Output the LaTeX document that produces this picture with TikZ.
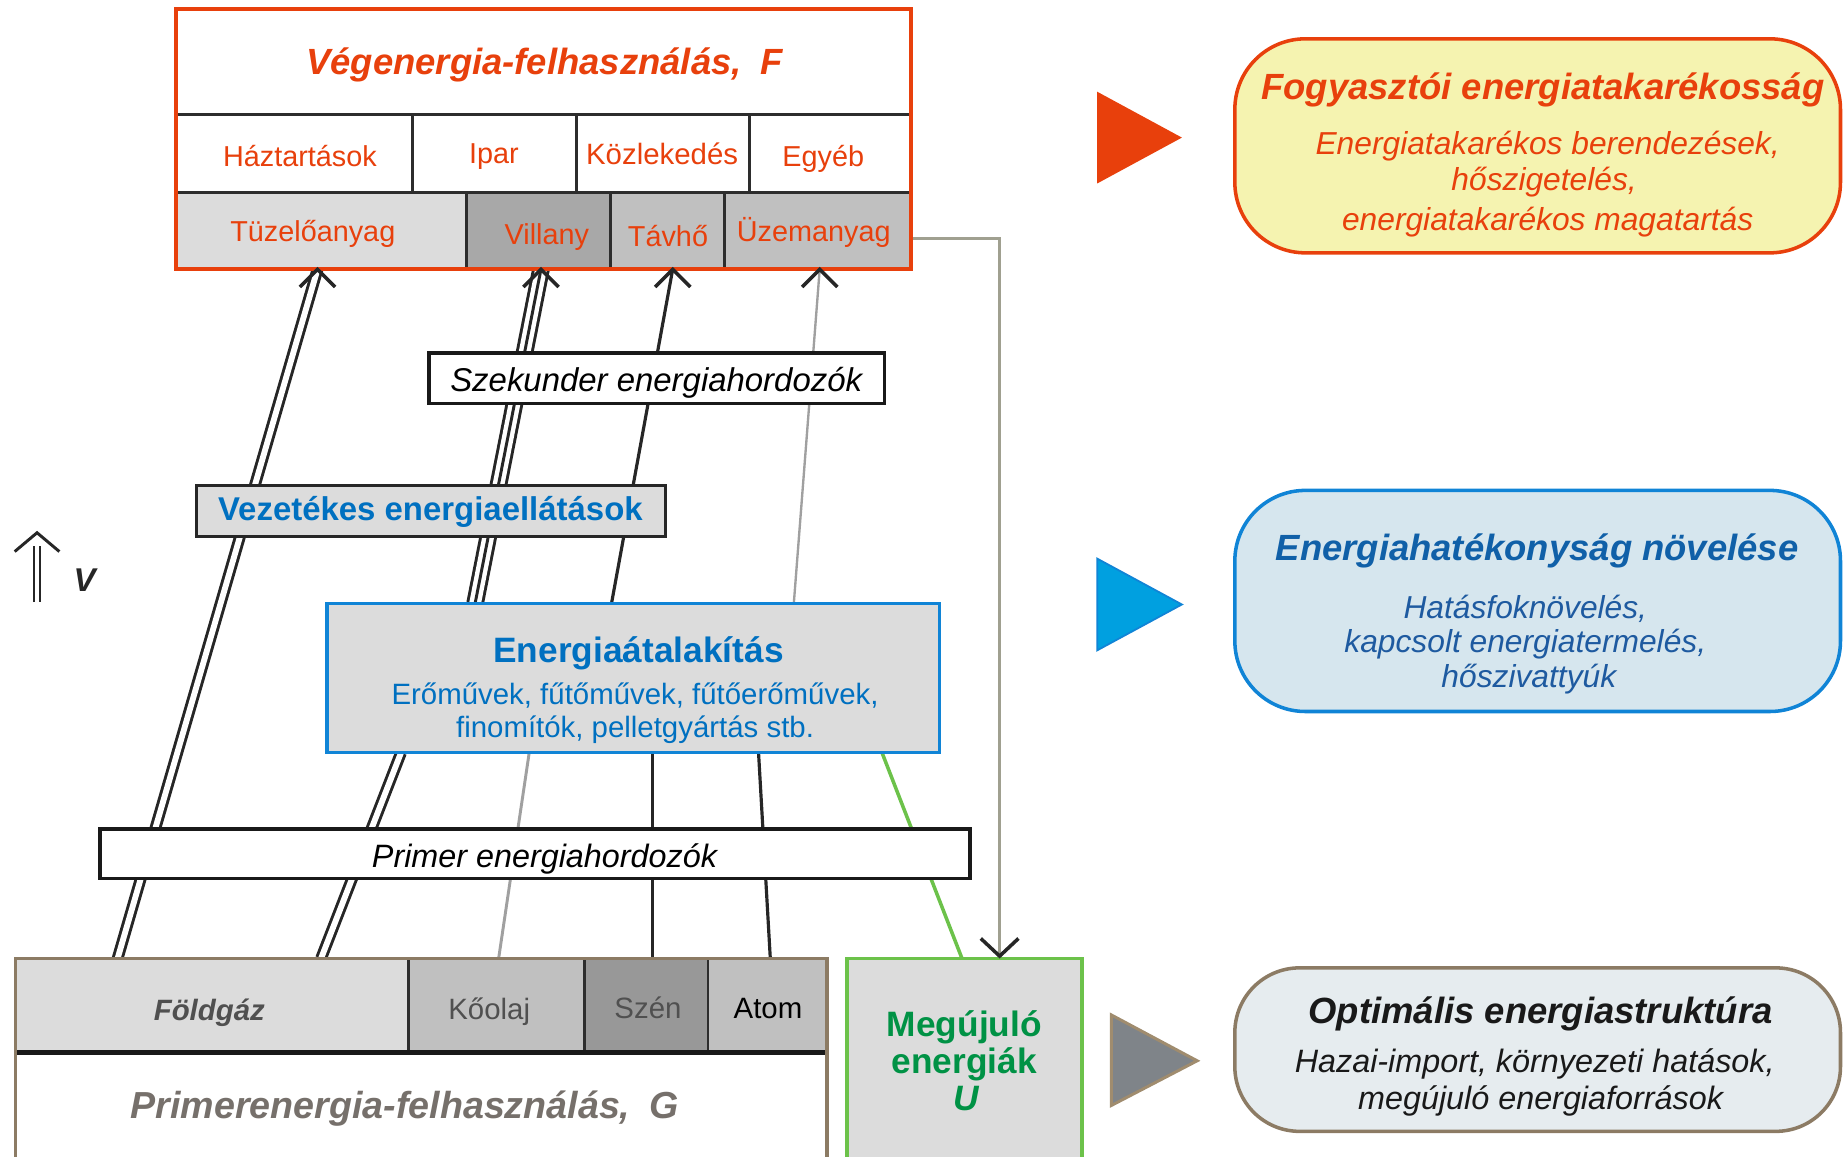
\documentclass[tikz,border=0pt]{standalone}
\usepackage{fontspec}
\setmainfont{Liberation Sans}
\usetikzlibrary{calc}
\pgfdeclarelayer{bg}
\pgfsetlayers{bg,main}
\definecolor{vred}{RGB}{232,64,12}
\definecolor{cellb}{RGB}{45,45,45}
\definecolor{lgray}{RGB}{220,220,220}
\definecolor{mgray}{RGB}{192,192,192}
\definecolor{dgray}{RGB}{168,168,168}
\definecolor{sgray}{RGB}{152,152,152}
\definecolor{bblue}{RGB}{16,132,214}
\definecolor{tblue}{RGB}{0,112,192}
\definecolor{gborder}{RGB}{108,194,74}
\definecolor{gtext}{RGB}{0,146,69}
\definecolor{brownb}{RGB}{140,123,100}
\definecolor{yfill}{RGB}{245,243,176}
\definecolor{bfill}{RGB}{214,230,238}
\definecolor{cfill}{RGB}{230,236,239}
\definecolor{ttwo}{RGB}{16,96,168}
\definecolor{ttwos}{RGB}{30,90,160}
\definecolor{olive}{RGB}{160,160,144}
\definecolor{lline}{RGB}{160,160,160}
\definecolor{gtitle}{RGB}{118,112,107}
\definecolor{ftext}{RGB}{80,80,80}
\definecolor{triblue}{RGB}{0,160,224}
\definecolor{trigray}{RGB}{127,132,137}
\definecolor{tribrown}{RGB}{160,140,110}
\newcommand\myfs[1]{\fontsize{#1}{#1}\selectfont}
\begin{document}
\begin{tikzpicture}[x=1pt,y=-1pt,
  box/.style={inner sep=0pt, outer sep=0pt},
  cell/.style={box, draw=cellb, line width=2.5pt},
  txt/.style={anchor=base, inner sep=0pt, outer sep=0pt},
  chev/.style={draw=black!85, line width=3pt, line join=miter},
  dbl/.style={draw=black!85, line width=2.5pt, double=white, double distance=5pt},
  tpl/.style={draw=black!85, line width=2.5pt, double=white, double distance=10pt},
  sgl/.style={draw=black!85, line width=2.7pt},
  rbox/.style={box, line width=3pt}]
\useasboundingbox (0,0) rectangle (1568,983);

% ---------- top box ----------
\node[cell, fill=white, minimum width=625, minimum height=89] (vtitle) at (462.5,52.5) {};
\node[txt, font={\myfs{31}\bfseries\itshape}, text=vred] (vtitleT) at (463,63) {Végenergia-felhasználás,\hspace{16pt}F};
\node[cell, fill=white, minimum width=201, minimum height=67] (hazt) at (250.5,130.5) {};
\node[cell, fill=white, minimum width=139, minimum height=67] (ipar) at (420.5,130.5) {};
\node[cell, fill=white, minimum width=147, minimum height=67] (kozl) at (563.5,130.5) {};
\node[cell, fill=white, minimum width=138, minimum height=67] (egyeb) at (706,130.5) {};
\node[txt, font=\myfs{24.5}, text=vred] (haztT) at (255,142) {Háztartások};
\node[txt, font=\myfs{24.5}, text=vred] (iparT) at (420,139) {Ipar};
\node[txt, font=\myfs{25}, text=vred] (kozlT) at (563,140) {Közlekedés};
\node[txt, font=\myfs{24.5}, text=vred] (egyebT) at (700,142) {Egyéb};
\node[cell, fill=lgray, minimum width=247, minimum height=65] (tuz) at (273.5,196.5) {};
\node[cell, fill=dgray, minimum width=122, minimum height=65] (vill) at (458,196.5) {};
\node[cell, fill=mgray, minimum width=97, minimum height=65] (tavho) at (567.5,196.5) {};
\node[cell, fill=mgray, minimum width=159, minimum height=65] (uzem) at (695.5,196.5) {};
\node[txt, font=\myfs{24.5}, text=vred] (tuzT) at (266,205) {Tüzelőanyag};
\node[txt, font=\myfs{24.5}, text=vred] (villT) at (465,208) {Villany};
\node[txt, font=\myfs{24.5}, text=vred] (tavhoT) at (568,210) {Távhő};
\node[txt, font=\myfs{24.5}, text=vred] (uzemT) at (692,205) {Üzemanyag};
\draw[vred, line width=3.5pt] (vtitle.north west) rectangle (uzem.south east);

% ---------- middle boxes ----------
\node[box, draw=black!90, line width=3pt, fill=white, minimum width=387, minimum height=43] (szek) at (558.5,321.5) {};
\node[txt, font={\myfs{28}\itshape}] (szekT) at (558,333) {Szekunder energiahordozók};
\node[box, draw=black!85, line width=3pt, fill=lgray, minimum width=399, minimum height=43] (vez) at (366.5,434.5) {};
\node[txt, font={\myfs{28}\bfseries}, text=tblue] (vezT) at (366,443) {Vezetékes energiaellátások};
\node[box, draw=bblue, line width=3pt, fill=lgray, minimum width=521, minimum height=127] (eat) at (538.5,576.5) {};
\node[txt, font={\myfs{30}\bfseries}, text=tblue] (eatT) at (543,563) {Energiaátalakítás};
\node[txt, font=\myfs{25}, text=tblue] (eatL1) at (540,599) {Erőművek, fűtőművek, fűtőerőművek,};
\node[txt, font=\myfs{25}, text=tblue] (eatL2) at (540,627) {finomítók, pelletgyártás stb.};
\node[box, draw=black!90, line width=3pt, fill=white, minimum width=740, minimum height=42] (prim) at (455,726) {};
\node[txt, font={\myfs{27.5}\itshape}] (primT) at (463,738) {Primer energiahordozók};

% ---------- bottom box ----------
\node[box, draw=cellb, line width=2.5pt, fill=lgray, minimum width=334, minimum height=80] (fold) at (180,855) {};
\node[box, draw=cellb, line width=2.5pt, fill=mgray, minimum width=150, minimum height=80] (koolaj) at (422,855) {};
\node[box, draw=cellb, line width=2.5pt, fill=sgray, minimum width=105, minimum height=80] (szen) at (549.5,855) {};
\node[box, draw=cellb, line width=2.5pt, fill=mgray, minimum width=101, minimum height=80] (atom) at (652.5,855) {};
\node[box, fill=white, minimum width=690, minimum height=95] (gcell) at (358,942.5) {};
\draw[black!90, line width=3.5pt] (fold.south west) -- (atom.south east);
\draw[brownb, line width=3pt] ($(fold.north west)+(0,175)$) -- (fold.north west) -- (atom.north east) -- ($(atom.north east)+(0,175)$);
\node[txt, font={\myfs{25}\bfseries\itshape}, text=ftext] (foldT) at (178,868) {Földgáz};
\node[txt, font=\myfs{25}, text=ftext] (koolajT) at (416,867) {Kőolaj};
\node[txt, font=\myfs{25}, text=ftext] (szenT) at (551,866) {Szén};
\node[txt, font=\myfs{25}, text=black] (atomT) at (653,866) {Atom};
\node[txt, font={\myfs{32}\bfseries\itshape}, text=gtitle] (gT) at (344,951) {Primerenergia-felhasználás,\hspace{16pt}G};

\node[box, draw=gborder, line width=3pt, fill=lgray, minimum width=200, minimum height=175] (megu) at (820,902.5) {};
\node[txt, font={\myfs{30}\bfseries}, text=gtext] (meguT1) at (820,881) {Megújuló};
\node[txt, font={\myfs{30}\bfseries}, text=gtext] (meguT2) at (820,913) {energiák};
\node[txt, font={\myfs{30}\bfseries\itshape}, text=gtext] (meguT3) at (822,944) {U};

% ---------- connectors (behind boxes) ----------
\begin{pgfonlayer}{bg}
\draw[dbl] ([xshift=87pt]fold.north west) -- ([xshift=120pt]tuz.south west);
\draw[dbl] ([xshift=260pt]fold.north west) -- ([xshift=63pt]eat.south west);
\draw[tpl] ([xshift=126pt]eat.north west) -- ([xshift=63pt]vill.south west);
\draw[sgl, line width=2.5pt] ([xshift=126pt]eat.north west) -- ([xshift=63pt]vill.south west);
\draw[sgl] ([xshift=242pt]eat.north west) -- ([xshift=53pt]tavho.south west);
\draw[lline, line width=2pt] ([xshift=397pt]eat.north west) -- ([xshift=81pt]uzem.south west);
\draw[lline, line width=2.5pt] ([xshift=77pt]koolaj.north west) -- ([xshift=172pt]eat.south west);
\draw[sgl] ([xshift=58pt]szen.north west) -- ([xshift=277pt]eat.south west);
\draw[sgl] ([xshift=53pt]atom.north west) -- ([xshift=367pt]eat.south west);
\draw[gborder, line width=3pt] ([xshift=98pt]megu.north west) -- ([xshift=472pt]eat.south west);
\draw[olive, line width=2.5pt] ([yshift=-6.5pt]uzem.east) -| ([xshift=130pt,yshift=2pt]megu.north west);
\end{pgfonlayer}

% ---------- arrowheads ----------
\coordinate (h1) at ([xshift=120pt]tuz.south west);
\coordinate (h2) at ([xshift=63pt]vill.south west);
\coordinate (h3) at ([xshift=53pt]tavho.south west);
\coordinate (h4) at ([xshift=81pt]uzem.south west);
\coordinate (h5) at ([xshift=130pt,yshift=2pt]megu.north west);
\foreach \h in {h1,h2,h3,h4}{
  \draw[chev] ($(\h)+(-15,15)$) -- (\h) -- ($(\h)+(15,15)$);
}
\draw[chev] ($(h5)+(-16,-15)$) -- (h5) -- ($(h5)+(16,-15)$);

% ---------- left V marker ----------
\coordinate (vtop) at (31.5,453);
\draw[draw=black!85, line width=2pt, double=white, double distance=3.5pt] (31.5,512) -- (31.5,464);
\draw[chev, line width=2.5pt] ($(vtop)+(-19,16)$) -- (vtop) -- ($(vtop)+(19,16)$);
\node[txt, font={\myfs{28}\bfseries\itshape}, text=black!85] (vlab) at (72,503) {V};

% ---------- triangles ----------
\fill[vred] (933,78) -- (1005,117) -- (933,156) -- cycle;
\filldraw[fill=triblue, draw=bblue, line width=1.5pt] (933,475) -- (1005,514) -- (933,553) -- cycle;
\filldraw[fill=trigray, draw=tribrown, line width=2.5pt] (945,863) -- (1018,902) -- (945,940) -- cycle;

% ---------- right boxes ----------
\node[rbox, draw=vred, fill=yfill, minimum width=515, minimum height=182, rounded corners=60pt] (r1) at (1307.5,124) {};
\node[txt, font={\myfs{31}\bfseries\itshape}, text=vred] (r1T) at (1312,85) {Fogyasztói energiatakarékosság};
\node[txt, font={\myfs{27}\itshape}, text=vred] (r1a) at (1316,131) {Energiatakarékos berendezések,};
\node[txt, font={\myfs{27}\itshape}, text=vred] (r1b) at (1313,162) {hőszigetelés,};
\node[txt, font={\myfs{27}\itshape}, text=vred] (r1c) at (1316,196) {energiatakarékos magatartás};

\node[rbox, draw=bblue, fill=bfill, minimum width=515, minimum height=188, rounded corners=60pt] (r2) at (1307.5,511) {};
\node[txt, font={\myfs{31}\bfseries\itshape}, text=ttwo] (r2T) at (1307,477) {Energiahatékonyság növelése};
\node[txt, font={\myfs{27}\itshape}, text=ttwos] (r2a) at (1297,526) {Hatásfoknövelés,};
\node[txt, font={\myfs{27}\itshape}, text=ttwos] (r2b) at (1297,555) {kapcsolt energiatermelés,};
\node[txt, font={\myfs{27}\itshape}, text=ttwos] (r2c) at (1300,585) {hőszivattyúk};

\node[rbox, draw=brownb, fill=cfill, minimum width=515, minimum height=139, rounded corners=55pt] (r3) at (1307.5,892.5) {};
\node[txt, font={\myfs{31}\bfseries\itshape}, text=black!90] (r3T) at (1310,870) {Optimális energiastruktúra};
\node[txt, font={\myfs{27.5}\itshape}, text=black!90] (r3a) at (1305,912) {Hazai-import, környezeti hatások,};
\node[txt, font={\myfs{27.5}\itshape}, text=black!90] (r3b) at (1310,943) {megújuló energiaforrások};
\end{tikzpicture}
\end{document}
